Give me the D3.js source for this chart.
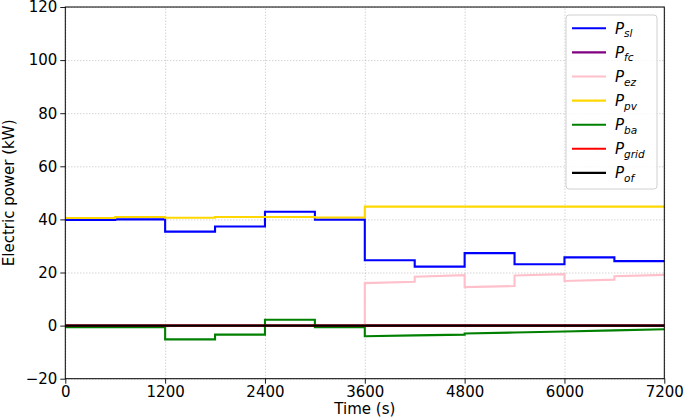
<!DOCTYPE html>
<html>
<head>
<meta charset="utf-8">
<script src="https://cdn.jsdelivr.net/npm/d3@7"></script>
<style>
  body { margin: 0; background: #fff; }
  svg { font-family: "DejaVu Sans", sans-serif; }
  .tick text { font-size: 15px; fill: #000; }
  .grid line { stroke: #b0b0b0; stroke-dasharray: 1,2; stroke-width: 0.8; }
  .grid .domain { display: none; }
</style>
</head>
<body>
<svg width="685" height="419"></svg>
<script>
// time at the start of every 600 s step
const segStart = [0, 600, 1200, 1800, 2400, 3000, 3600, 4200, 4800, 5400, 6000, 6600];
const segLen = 600;

// value at start / end of each step (kW)
const pSlStart = [39.8, 40.0, 35.4, 37.3, 42.9, 39.9, 24.6, 22.2, 27.3, 23.1, 25.7, 24.3];
const pSlEnd   = [39.8, 40.0, 35.4, 37.3, 42.9, 39.9, 24.6, 22.2, 27.3, 23.1, 25.7, 24.3];
const pFcStart = [0, 0, 0, 0, 0, 0, 0, 0, 0, 0, 0, 0];
const pFcEnd   = [0, 0, 0, 0, 0, 0, 0, 0, 0, 0, 0, 0];
const pEzStart = [0, 0, 0, 0, 0, 0, 16.0, 18.4, 14.5, 18.9, 16.8, 18.6];
const pEzEnd   = [0, 0, 0, 0, 0, 0, 16.5, 19.0, 14.9, 19.4, 17.3, 19.1];
const pPvStart = [40.5, 40.9, 40.6, 40.9, 40.9, 40.7, 44.8, 44.8, 44.8, 44.8, 44.8, 44.8];
const pPvEnd   = [40.5, 40.9, 40.6, 40.9, 40.9, 40.7, 44.8, 44.8, 44.8, 44.8, 44.8, 44.8];
const pBaStart = [-0.6, -0.6, -5.2, -3.4, 2.2, -0.6, -4.0, -3.7, -3.0, -2.6, -2.2, -1.8];
const pBaEnd   = [-0.6, -0.6, -5.2, -3.4, 2.2, -0.6, -3.7, -3.4, -2.6, -2.2, -1.8, -1.4];
const pGridStart = [0, 0, 0, 0, 0, 0, 0, 0, 0, 0, 0, 0];
const pGridEnd   = [0, 0, 0, 0, 0, 0, 0, 0, 0, 0, 0, 0];
const pOfStart = [0, 0, 0, 0, 0, 0, 0, 0, 0, 0, 0, 0];
const pOfEnd   = [0, 0, 0, 0, 0, 0, 0, 0, 0, 0, 0, 0];

const seriesNames = ["sl", "fc", "ez", "pv", "ba", "grid", "of"];
const seriesColors = ["#0000ff", "#800080", "#ffc0cb", "#ffd700", "#008000", "#ff0000", "#000000"];
const seriesStart = [pSlStart, pFcStart, pEzStart, pPvStart, pBaStart, pGridStart, pOfStart];
const seriesEnd = [pSlEnd, pFcEnd, pEzEnd, pPvEnd, pBaEnd, pGridEnd, pOfEnd];

const xTicks = [0, 1200, 2400, 3600, 4800, 6000, 7200];
const yTicks = [-20, 0, 20, 40, 60, 80, 100, 120];

const svg = d3.select("svg");
const padding = {left: 65.3, top: 7, right: 685 - 664.3, bottom: 419 - 378.7};
const w = 685, h = 419;

const xScale = d3.scaleLinear().domain([0, 7200]).range([padding.left, w - padding.right]);
const yScale = d3.scaleLinear().domain([-20, 120]).range([h - padding.bottom, padding.top]);

// grid
svg.append("g").attr("class", "grid")
  .attr("transform", "translate(0," + (h - padding.bottom) + ")")
  .call(d3.axisBottom(xScale).tickValues(xTicks).tickSize(-(h - padding.top - padding.bottom)).tickFormat(""));
svg.append("g").attr("class", "grid")
  .attr("transform", "translate(" + padding.left + ",0)")
  .call(d3.axisLeft(yScale).tickValues(yTicks).tickSize(-(w - padding.left - padding.right)).tickFormat(""));

// lines
const line = d3.line().x(d => xScale(d[0])).y(d => yScale(d[1]));
seriesNames.forEach((name, k) => {
  let pts = [];
  segStart.forEach((t, i) => {
    pts.push([t, seriesStart[k][i]]);
    pts.push([t + segLen, seriesEnd[k][i]]);
  });
  svg.append("path")
    .attr("d", line(pts))
    .attr("fill", "none")
    .attr("stroke", seriesColors[k])
    .attr("stroke-width", 2.1)
    .attr("stroke-linejoin", "miter");
});

// axes
const fmt = d => d < 0 ? "\u2212" + Math.abs(d) : String(d);
const xAxis = svg.append("g")
  .attr("transform", "translate(0," + (h - padding.bottom) + ")")
  .call(d3.axisBottom(xScale).tickValues(xTicks).tickSize(5).tickPadding(3).tickFormat(d => d));
const yAxis = svg.append("g")
  .attr("transform", "translate(" + padding.left + ",0)")
  .call(d3.axisLeft(yScale).tickValues(yTicks).tickSize(5).tickPadding(3).tickFormat(fmt));
[xAxis, yAxis].forEach(a => {
  a.select(".domain").remove();
  a.selectAll(".tick line").attr("stroke", "#000").attr("stroke-width", 0.9);
  a.selectAll(".tick text").attr("font-family", "DejaVu Sans");
});

// spines
svg.append("rect")
  .attr("x", padding.left).attr("y", padding.top)
  .attr("width", w - padding.left - padding.right)
  .attr("height", h - padding.top - padding.bottom)
  .attr("fill", "none").attr("stroke", "#000").attr("stroke-width", 1);

// axis labels
svg.append("text")
  .attr("x", (padding.left + w - padding.right) / 2).attr("y", 414)
  .attr("text-anchor", "middle").attr("font-size", 15)
  .text("Time (s)");
svg.append("text")
  .attr("transform", "translate(14," + ((padding.top + h - padding.bottom) / 2) + ") rotate(-90)")
  .attr("text-anchor", "middle").attr("font-size", 15)
  .text("Electric power (kW)");

// legend
const legend = svg.append("g").attr("id", "legend");
legend.append("rect")
  .attr("x", 566).attr("y", 15).attr("width", 91).attr("height", 174)
  .attr("rx", 3).attr("fill", "#fff").attr("fill-opacity", 0.8)
  .attr("stroke", "#d0d0d0").attr("stroke-width", 1);
seriesNames.forEach((name, k) => {
  const y = 28.3 + k * 24.1;
  legend.append("line")
    .attr("x1", 572).attr("x2", 606).attr("y1", y).attr("y2", y)
    .attr("stroke", seriesColors[k]).attr("stroke-width", 2.1);
  const t = legend.append("text")
    .attr("x", 615).attr("y", y + 5.5)
    .attr("font-size", 15).attr("font-style", "italic");
  t.append("tspan").text("P");
  t.append("tspan").attr("dy", 3.5).attr("font-size", 10.5).text(name);
});
</script>
</body>
</html>
